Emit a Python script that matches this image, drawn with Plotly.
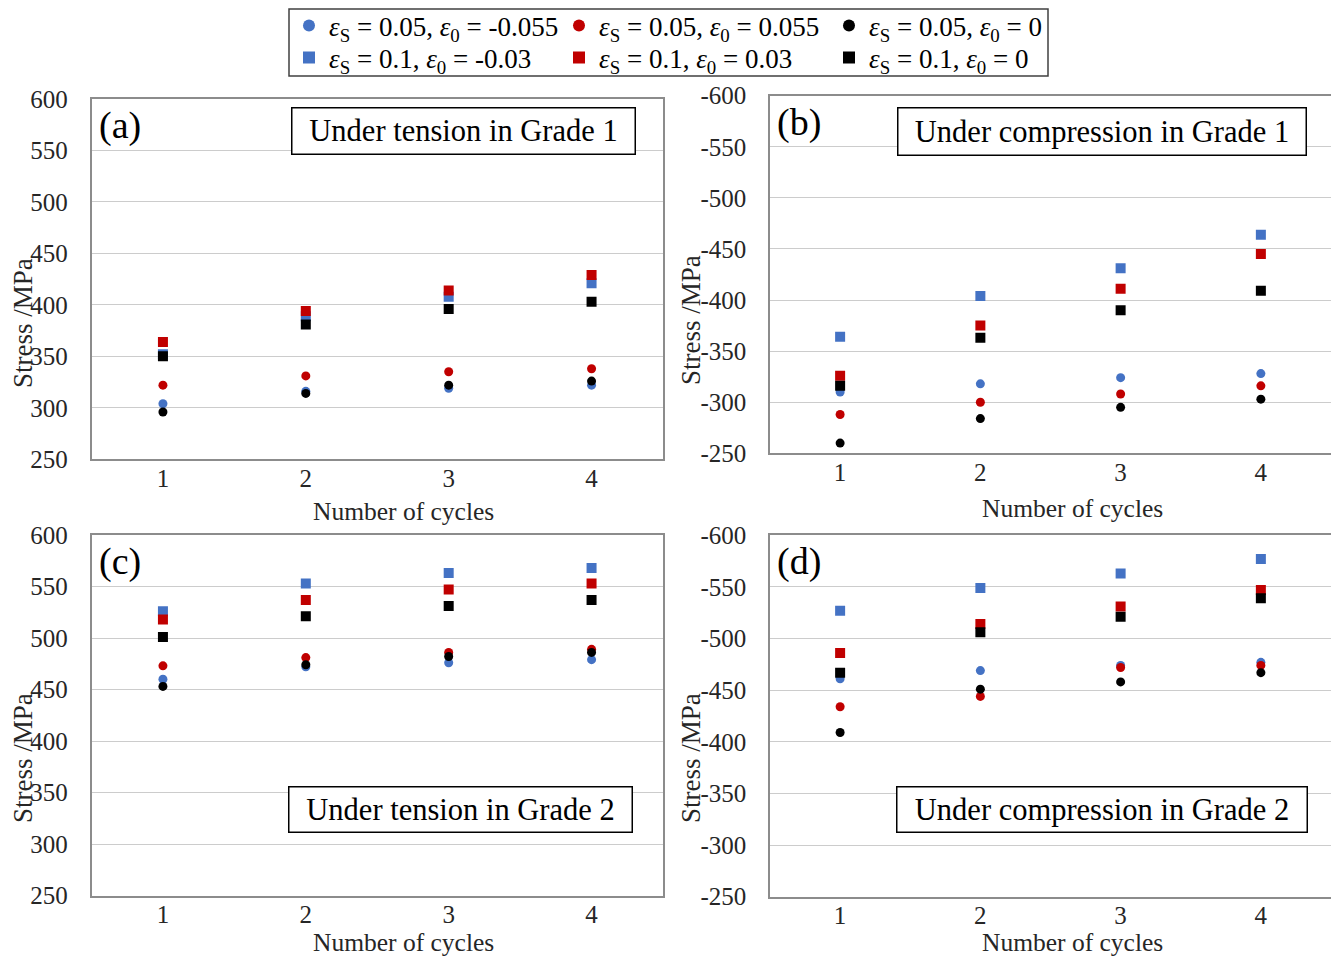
import plotly.graph_objects as go

# ---------------- data ----------------
cycles = ["1", "2", "3", "4"]

# (a) Grade 1, tension
g1t_s005_neg = [304, 316, 319, 322]
g1t_s005_pos = [322, 331, 335, 338]
g1t_s005_zero = [296, 314, 322, 326]
g1t_s01_neg = [352, 389, 408, 421]
g1t_s01_pos = [364, 394, 414, 429]
g1t_s01_zero = [350, 381, 396, 403]

# (b) Grade 1, compression
g1c_s005_neg = [-310, -318, -324, -328]
g1c_s005_pos = [-288, -300, -308, -316]
g1c_s005_zero = [-260, -284, -295, -303]
g1c_s01_neg = [-364, -404, -431, -464]
g1c_s01_pos = [-326, -375, -411, -445]
g1c_s01_zero = [-316, -363, -390, -409]

# (c) Grade 2, tension
g2t_s005_neg = [460, 472, 476, 479]
g2t_s005_pos = [473, 481, 486, 489]
g2t_s005_zero = [453, 474, 482, 486]
g2t_s01_neg = [526, 553, 563, 568]
g2t_s01_pos = [518, 537, 547, 553]
g2t_s01_zero = [501, 521, 531, 537]

# (d) Grade 2, compression
g2c_s005_neg = [-461, -469, -474, -477]
g2c_s005_pos = [-434, -444, -472, -474]
g2c_s005_zero = [-409, -451, -458, -467]
g2c_s01_neg = [-527, -549, -563, -577]
g2c_s01_pos = [-486, -514, -531, -547]
g2c_s01_zero = [-467, -506, -521, -539]

series_names = [
    "<i>ε</i><sub>S</sub> = 0.05, <i>ε</i><sub>0</sub> = -0.055",
    "<i>ε</i><sub>S</sub> = 0.05, <i>ε</i><sub>0</sub> = 0.055",
    "<i>ε</i><sub>S</sub> = 0.05, <i>ε</i><sub>0</sub> = 0",
    "<i>ε</i><sub>S</sub> = 0.1, <i>ε</i><sub>0</sub> = -0.03",
    "<i>ε</i><sub>S</sub> = 0.1, <i>ε</i><sub>0</sub> = 0.03",
    "<i>ε</i><sub>S</sub> = 0.1, <i>ε</i><sub>0</sub> = 0",
]

tension_ticks = [250, 300, 350, 400, 450, 500, 550, 600]
tension_ticktext = ["250", "300", "350", "400", "450", "500", "550", "600"]
compression_ticks = [-250, -300, -350, -400, -450, -500, -550, -600]
compression_ticktext = ["-250", "-300", "-350", "-400", "-450", "-500", "-550", "-600"]

panel_titles = ["Under tension in Grade 1", "Under compression in Grade 1",
                "Under tension in Grade 2", "Under compression in Grade 2"]
panel_letters = ["(a)", "(b)", "(c)", "(d)"]
x_title = "Number of cycles"
y_title = "Stress /MPa"

# ---------------- style ----------------
OFF = 8                      # page body margin
FW, FH = 1339 - 2 * OFF, 964 - 2 * OFF
FONT = "Liberation Serif"
BLUE, RED, BLACK = "#4472C4", "#C00000", "#000000"
colors = [BLUE, RED, BLACK, BLUE, RED, BLACK]
symbols = ["circle", "circle", "circle", "square", "square", "square"]
sizes = [9, 9, 9, 10, 10, 10]
legend_ids = ["legend", "legend", "legend", "legend2", "legend2", "legend2"]

def px_x(p):
    return min(1.0, max(0.0, (p - OFF) / FW))

def px_y(p):
    return min(1.0, max(0.0, 1 - (p - OFF) / FH))

# pixel boxes in screen coords: (left, right, top, bottom)
boxes = [
    (91.5, 663, 99, 459.3),
    (770, 1333, 95.7, 453.3),
    (91.5, 663, 535, 895.5),
    (770, 1333, 535.3, 896.7),
]

panels = [
    [g1t_s005_neg, g1t_s005_pos, g1t_s005_zero, g1t_s01_neg, g1t_s01_pos, g1t_s01_zero],
    [g1c_s005_neg, g1c_s005_pos, g1c_s005_zero, g1c_s01_neg, g1c_s01_pos, g1c_s01_zero],
    [g2t_s005_neg, g2t_s005_pos, g2t_s005_zero, g2t_s01_neg, g2t_s01_pos, g2t_s01_zero],
    [g2c_s005_neg, g2c_s005_pos, g2c_s005_zero, g2c_s01_neg, g2c_s01_pos, g2c_s01_zero],
]

fig = go.Figure()
layout = {}
annotations = []

for i, (data, box) in enumerate(zip(panels, boxes)):
    n = "" if i == 0 else str(i + 1)
    xa, ya = "x" + n, "y" + n
    for j in range(6):
        fig.add_trace(go.Scatter(
            x=cycles, y=data[j], mode="markers", name=series_names[j],
            legend=legend_ids[j], showlegend=(i == 0),
            marker=dict(symbol=symbols[j], size=sizes[j], color=colors[j], line=dict(width=0)),
            xaxis=xa, yaxis=ya,
        ))
    l, r, t, b = box
    compression = i in (1, 3)
    layout["xaxis" + n] = dict(
        domain=[px_x(l), px_x(r)], anchor=ya, type="category",
        categoryorder="array", categoryarray=cycles, range=[-0.5, 3.5],
        showgrid=False, showline=True, linecolor="#8c8c8c", linewidth=1.5, mirror=True,
        ticks="", tickfont=dict(family=FONT, size=25, color="#262626"),
        ticklabelstandoff=-4, zeroline=False, automargin=False,
    )
    layout["yaxis" + n] = dict(
        domain=[px_y(b), px_y(t)], anchor=xa,
        range=[-250, -600] if compression else [250, 600],
        tickvals=compression_ticks if compression else tension_ticks,
        ticktext=compression_ticktext if compression else tension_ticktext,
        showgrid=True, gridcolor="#cccccc", gridwidth=1.3,
        showline=True, linecolor="#8c8c8c", linewidth=1.5, mirror=True,
        ticks="", tickfont=dict(family=FONT, size=25, color="#262626"),
        ticklabelstandoff=17, zeroline=False, automargin=False,
    )
    # panel letter
    annotations.append(dict(
        xref="paper", yref="paper", x=px_x(l + 5), y=px_y(t + 3), xanchor="left", yanchor="top",
        text=panel_letters[i], showarrow=False, font=dict(family=FONT, size=38, color="#000"),
    ))
    # titled box
    bx = [(291, 635, 108, 155), (897, 1306, 107, 155), (289, 633, 786, 832), (896, 1307, 786, 832)][i]
    annotations.append(dict(
        xref="paper", yref="paper", x=px_x((bx[0] + bx[1]) / 2), y=px_y((bx[2] + bx[3]) / 2),
        xanchor="center", yanchor="middle", text=panel_titles[i], showarrow=False,
        font=dict(family=FONT, size=30.5, color="#000"),
        width=bx[1] - bx[0] - 10, height=bx[3] - bx[2] - 10, borderpad=4,
        bordercolor="#000", borderwidth=1.5, bgcolor="white",
    ))
    # x title
    xt = [(403, 511), (1072, 508), (403, 942), (1072, 942)][i]
    annotations.append(dict(
        xref="paper", yref="paper", x=px_x(xt[0]), y=px_y(xt[1]), xanchor="center", yanchor="middle",
        text=x_title, showarrow=False, font=dict(family=FONT, size=25.5, color="#262626"),
    ))
    # y title
    yt = [(23, 323), (691, 320), (23, 758), (691, 758)][i]
    annotations.append(dict(
        xref="paper", yref="paper", x=px_x(yt[0]), y=px_y(yt[1]), xanchor="center", yanchor="middle",
        text=y_title, showarrow=False, textangle=-90, font=dict(family=FONT, size=27, color="#262626"),
    ))

legend_common = dict(
    orientation="h", xanchor="left", yanchor="middle", x=px_x(289),
    font=dict(family=FONT, size=27, color="#000"),
    bgcolor="rgba(0,0,0,0)", borderwidth=0, itemsizing="constant",
    entrywidth=225, entrywidthmode="pixels",
)

fig.update_layout(
    **layout,
    annotations=annotations,
    shapes=[dict(type="rect", xref="paper", yref="paper",
                 x0=px_x(289), x1=px_x(1048), y0=px_y(76), y1=px_y(9),
                 line=dict(color="#404040", width=1.5), fillcolor="rgba(0,0,0,0)", layer="above")],
    width=FW, height=FH,
    margin=dict(l=0, r=0, t=0, b=0, autoexpand=False),
    font=dict(family=FONT, color="#262626"),
    paper_bgcolor="white", plot_bgcolor="white",
    showlegend=True,
    legend=dict(**legend_common, y=px_y(26)),
    legend2=dict(**legend_common, y=px_y(58)),
)

fig.write_html("out.html")
